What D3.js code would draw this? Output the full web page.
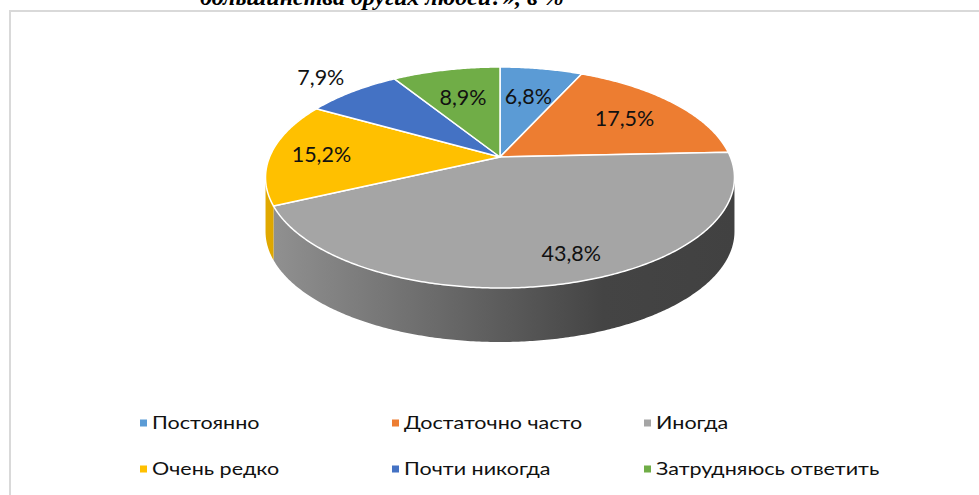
<!DOCTYPE html>
<html>
<head>
<meta charset="utf-8">
<script src="https://cdn.jsdelivr.net/npm/d3@7"></script>
<style>
  body { margin: 0; background: #fff; }
  svg { display: block; }
</style>
</head>
<body>
<div id="chart"></div>
<script>
// data
var categories = ["Постоянно", "Достаточно часто", "Иногда", "Очень редко", "Почти никогда", "Затрудняюсь ответить"];
var values = [6.8, 17.5, 43.8, 15.2, 7.9, 8.9];
var colors = ["#5b9bd5", "#ed7d31", "#a5a5a5", "#ffc000", "#4472c4", "#70ad47"];
var titleText = "большинства других людей?», в %";

// label placement: fraction of radius along the slice middle, plus a small angle nudge (degrees)
var labelRadius = [0.65, 0.7, 0.82, 0.78, 1.25, 0.65];
var labelNudge = [0, 0, -5, 0, 0, 0];

function main() {
  var width = 979, height = 495;

  var svg = d3.select("#chart")
    .append("svg")
      .attr("width", width)
      .attr("height", height);

  // title, cut off by the top of the picture
  svg.append("text")
    .attr("x", 200)
    .attr("y", 5)
    .text(titleText)
    .attr("font-family", "'Liberation Serif', 'Times New Roman', serif")
    .attr("font-weight", "bold")
    .attr("font-style", "italic")
    .attr("font-size", "24px")
    .attr("fill", "#000");

  // chart frame (runs past the right and bottom edge)
  svg.append("rect")
    .attr("x", 10)
    .attr("y", 11)
    .attr("width", 1000)
    .attr("height", 520)
    .attr("fill", "none")
    .attr("stroke", "#d9d9d9")
    .attr("stroke-width", 2);

  // 3d pie: a circle seen in perspective
  var cx = 500, cy = 157, A = 230.4, B = 106.7, p = 0.1855, depth = 54;

  function proj(a, r, dy) {
    var X = r * Math.sin(a), Y = -r * Math.cos(a), k = 1 / (1 - p * Y);
    return [cx + A * X * k, cy + B * Y * k + (dy || 0)];
  }
  function arcPts(a0, a1, dy) {
    var n = Math.max(2, Math.ceil(Math.abs(a1 - a0) / 0.01));
    return d3.range(n + 1).map(function(i) { return proj(a0 + (a1 - a0) * i / n, 1, dy); });
  }
  var line = d3.line();

  var arcs = d3.pie().sort(null).value(function(d) { return d; })(values);

  // front part of the rim is visible between the two silhouette points
  var aL = Math.acos(-p), aR = 2 * Math.PI - Math.acos(-p);

  var defs = svg.append("defs");
  var xLeft = cx - A * 1.02, xRight = cx + A * 1.02;

  arcs.forEach(function(d, i) {
    var s = Math.max(d.startAngle, aL), e = Math.min(d.endAngle, aR);
    if (s >= e) return;
    var base = d3.color(colors[i]);
    var grad = defs.append("linearGradient")
      .attr("id", "side" + i)
      .attr("gradientUnits", "userSpaceOnUse")
      .attr("x1", xLeft).attr("x2", xRight)
      .attr("y1", 0).attr("y2", 0);
    grad.append("stop").attr("offset", 0).attr("stop-color", base.darker(0.35));
    grad.append("stop").attr("offset", 0.72).attr("stop-color", base.darker(2.5));
    grad.append("stop").attr("offset", 1).attr("stop-color", base.darker(2.6));

    var pts = arcPts(s, e, 0).concat(arcPts(e, s, depth));
    svg.append("path")
      .attr("d", line(pts) + "Z")
      .attr("fill", "url(#side" + i + ")");
  });

  // top face slices
  svg.selectAll("path.slice")
    .data(arcs)
    .enter()
    .append("path")
      .attr("class", "slice")
      .attr("d", function(d) {
        return line([proj(0, 0, 0)].concat(arcPts(d.startAngle, d.endAngle, 0))) + "Z";
      })
      .attr("fill", function(d, i) { return colors[i]; })
      .attr("stroke", "#fff")
      .attr("stroke-width", 1.5)
      .attr("stroke-linejoin", "round");

  // data labels
  svg.selectAll("text.lbl")
    .data(arcs)
    .enter()
    .append("text")
      .attr("class", "lbl")
      .attr("transform", function(d, i) {
        var mid = (d.startAngle + d.endAngle) / 2 + labelNudge[i] * Math.PI / 180;
        var pt = proj(mid, labelRadius[i], 0);
        return "translate(" + pt[0] + "," + pt[1] + ")";
      })
      .attr("text-anchor", "middle")
      .attr("dy", "0.36em")
      .text(function(d) { return d.data.toFixed(1).replace(".", ",") + "%"; })
      .attr("font-family", "Lato, 'Noto Sans', sans-serif")
      .attr("font-size", "21.5px")
      .attr("fill", "#111");

  // legend, three columns by two rows
  var legend = svg.selectAll("g.leg")
    .data(categories)
    .enter()
    .append("g")
      .attr("class", "leg")
      .attr("transform", function(d, i) {
        return "translate(" + (140 + (i % 3) * 252) + "," + (423 + Math.floor(i / 3) * 46) + ")";
      });

  legend.append("rect")
    .attr("x", 0)
    .attr("y", -3.5)
    .attr("width", 7)
    .attr("height", 7)
    .attr("fill", function(d, i) { return colors[i]; });

  // the reference text is a little wide, so stretch it horizontally
  legend.append("text")
    .attr("transform", "translate(12,0) scale(1.23,1)")
    .attr("dy", "0.36em")
    .text(function(d) { return d; })
    .attr("font-family", "Lato, 'Noto Sans', sans-serif")
    .attr("font-size", "17.5px")
    .attr("fill", "#111");
}
main();
</script>
</body>
</html>
